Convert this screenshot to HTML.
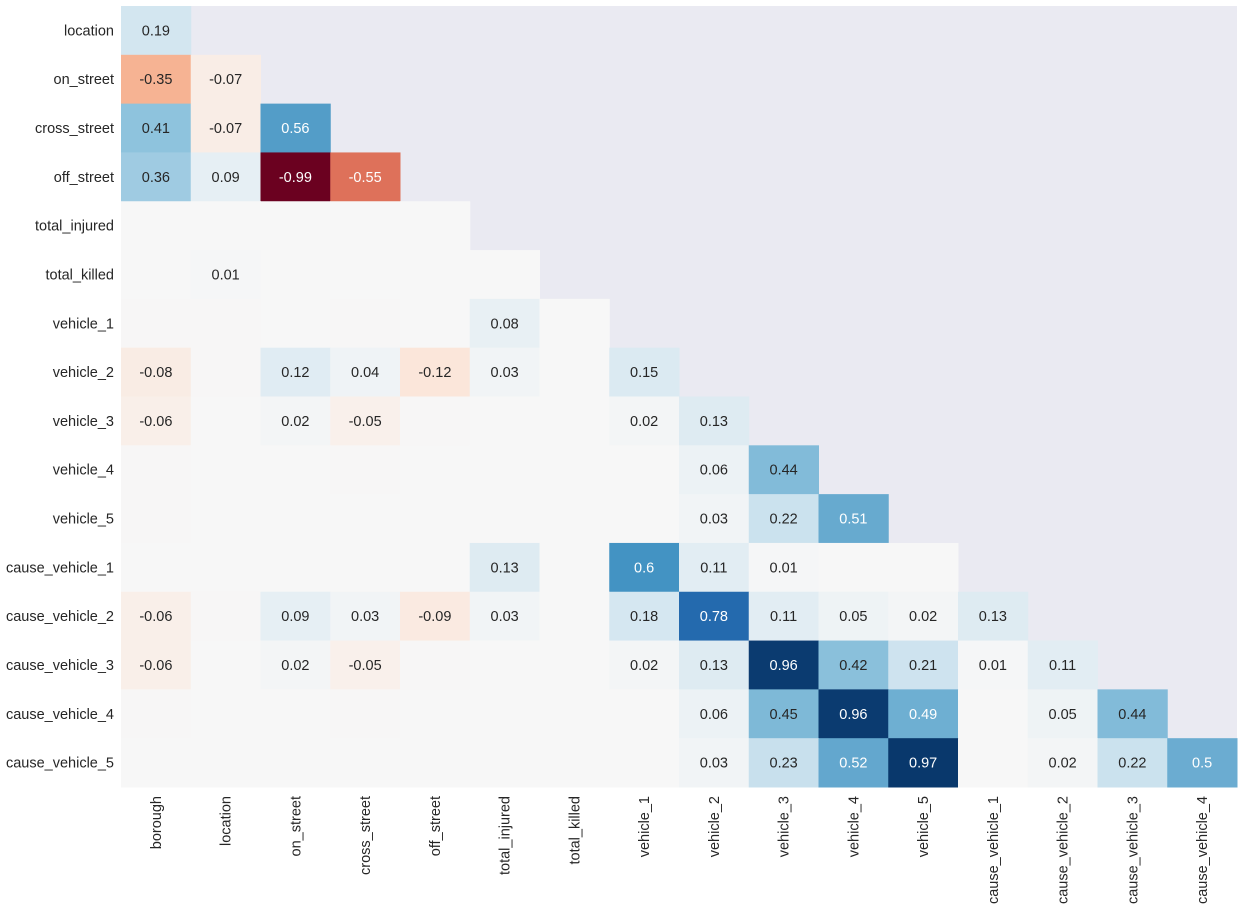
<!DOCTYPE html>
<html><head><meta charset="utf-8"><style>
html,body{margin:0;padding:0;background:#fff;}
svg{display:block;font-family:"Liberation Sans",Arial,sans-serif;}
</style></head><body>
<svg id="chart" width="1244" height="909" viewBox="0 0 1244 909" xmlns="http://www.w3.org/2000/svg">
<rect x="121" y="6" width="1116" height="781" fill="#EAEAF2"/>
<g id="cells"></g>
<g id="rowlabels"></g>
<g id="collabels"></g>
</svg>
<script>
const rowNames = ["location","on_street","cross_street","off_street","total_injured","total_killed","vehicle_1","vehicle_2","vehicle_3","vehicle_4","vehicle_5","cause_vehicle_1","cause_vehicle_2","cause_vehicle_3","cause_vehicle_4","cause_vehicle_5"];
const colNames = ["borough","location","on_street","cross_street","off_street","total_injured","total_killed","vehicle_1","vehicle_2","vehicle_3","vehicle_4","vehicle_5","cause_vehicle_1","cause_vehicle_2","cause_vehicle_3","cause_vehicle_4"];
const values = [
[0.19],
[-0.35,-0.07],
[0.41,-0.07,0.56],
[0.36,0.09,-0.99,-0.55],
[0,0,0,0,0],
[0,0.01,0,0,0,0],
[-0.004,-0.004,0,-0.004,0,0.08,0],
[-0.08,-0.004,0.12,0.04,-0.12,0.03,0,0.15],
[-0.06,0,0.02,-0.05,-0.004,0,0,0.02,0.13],
[-0.004,0,0,-0.004,0,0,0,0,0.06,0.44],
[-0.004,0,0,0,0,0,0,0,0.03,0.22,0.51],
[0,0,0,0,0,0.13,0,0.6,0.11,0.01,0,0],
[-0.06,-0.004,0.09,0.03,-0.09,0.03,0,0.18,0.78,0.11,0.05,0.02,0.13],
[-0.06,0,0.02,-0.05,-0.004,0,0,0.02,0.13,0.96,0.42,0.21,0.01,0.11],
[-0.004,0,0,-0.004,0,0,0,0,0.06,0.45,0.96,0.49,0,0.05,0.44],
[0,0,0,0,0,0,0,0,0.03,0.23,0.52,0.97,0,0.02,0.22,0.5]
];
const X0=121, X1=1237, Y0=6, Y1=787;
const cw=(X1-X0)/colNames.length, ch=(Y1-Y0)/rowNames.length;
const xPos=i=>X0+i*cw, yPos=j=>Y0+j*ch;
const stops=["#67001f","#b2182b","#d6604d","#f4a582","#fddbc7","#f7f7f7","#d1e5f0","#92c5de","#4393c3","#2166ac","#053061"].map(h=>[parseInt(h.slice(1,3),16),parseInt(h.slice(3,5),16),parseInt(h.slice(5,7),16)]);
function cmap(v){let t=(Math.max(-1,Math.min(1,v))+1)/2*10;let i=Math.min(9,Math.floor(t));let f=t-i;
 return stops[i].map((c,k)=>Math.round(c+(stops[i+1][k]-c)*f));}
function lum(c){const l=c.map(x=>{x/=255;return x<=0.03928?x/12.92:Math.pow((x+0.055)/1.055,2.4)});return 0.2126*l[0]+0.7152*l[1]+0.0722*l[2];}
const NS="http://www.w3.org/2000/svg";
const gC=document.getElementById('cells'),gR=document.getElementById('rowlabels'),gL=document.getElementById('collabels');
values.forEach((row,j)=>{row.forEach((v,i)=>{
 const c=cmap(v);
 const r=document.createElementNS(NS,'rect');
 
 
 r.setAttribute('x',xPos(i));r.setAttribute('y',yPos(j));r.setAttribute('width',cw+0.5);r.setAttribute('height',ch+0.5);
 r.setAttribute('fill','rgb('+c.join(',')+')');gC.appendChild(r);
 const rv=Math.round(v*100)/100;
 if(rv!==0){const t=document.createElementNS(NS,'text');
  
  
  t.setAttribute('x',xPos(i)+cw/2);t.setAttribute('y',yPos(j)+ch/2+5);t.setAttribute('text-anchor','middle');t.setAttribute('font-size','14.5');
  t.setAttribute('fill',lum(c)<0.408?'#fff':'#262626');t.textContent=String(rv);gC.appendChild(t);}
});});
rowNames.forEach((n,j)=>{const t=document.createElementNS(NS,'text');
 
 
 t.setAttribute('x',114);t.setAttribute('y',yPos(j)+ch/2+5);t.setAttribute('text-anchor','end');t.setAttribute('font-size','14.5');t.setAttribute('fill','#262626');t.textContent=n;gR.appendChild(t);});
colNames.forEach((n,i)=>{const t=document.createElementNS(NS,'text');
 
 
 const x=xPos(i)+cw/2+5,y=796;
 t.setAttribute('transform','translate('+x+','+y+') rotate(-90)');t.setAttribute('text-anchor','end');t.setAttribute('font-size','14.5');t.setAttribute('fill','#262626');t.textContent=n;gL.appendChild(t);});
</script>
</body></html>
